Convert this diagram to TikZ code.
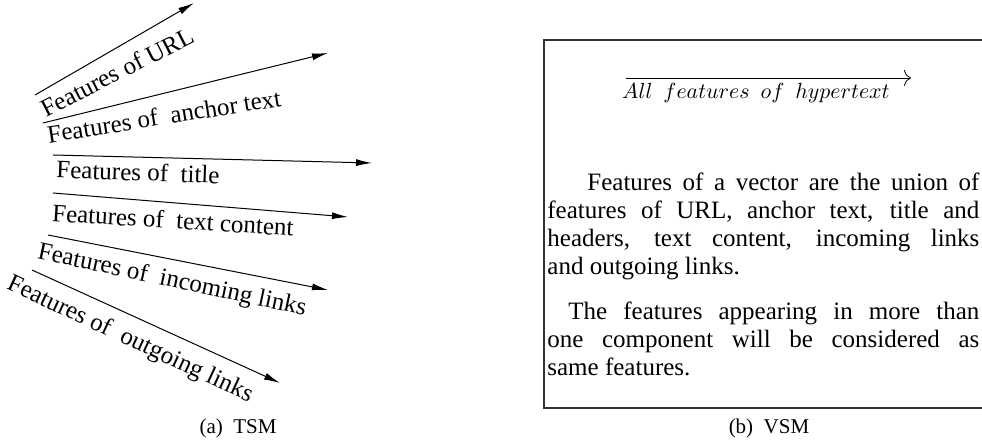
\documentclass[tikz,border=0pt]{standalone}
\usepackage{fontspec}
\setmainfont{Liberation Serif}
\usepackage{amsmath}
\usetikzlibrary{arrows.meta}

\begin{document}
\begin{tikzpicture}[x=0.5pt,y=-0.5pt,
    feat/.style={font=\fontsize{12.5}{14}\selectfont, inner sep=0pt},
    featarrow/.style={-{Latex[length=8pt,width=3.5pt]}, line width=0.5pt},
    para/.style={font=\fontsize{12.5}{14}\selectfont, inner sep=0pt, text width=216pt, align=left, anchor=north west},
    capt/.style={font=\fontsize{10.5}{12}\selectfont, inner sep=0pt}]
    \useasboundingbox (0,0) rectangle (982,442);

    % (a) TSM: one arrow per component
    \coordinate (url0) at (35,95);   \coordinate (url1) at (194,3);
    \coordinate (anc0) at (43,123);  \coordinate (anc1) at (328,53);
    \coordinate (tit0) at (53,155);  \coordinate (tit1) at (372,163);
    \coordinate (con0) at (53,193);  \coordinate (con1) at (348,217);
    \coordinate (inc0) at (48,235);  \coordinate (inc1) at (328,290);
    \coordinate (out0) at (32,270);  \coordinate (out1) at (280,383);
    \draw[featarrow] (url0) -- (url1);
    \draw[featarrow] (anc0) -- (anc1);
    \draw[featarrow] (tit0) -- (tit1);
    \draw[featarrow] (con0) -- (con1);
    \draw[featarrow] (inc0) -- (inc1);
    \draw[featarrow] (out0) -- (out1);
    \node[feat, rotate=27]   (urltxt) at (117,72)  {Features of URL};
    \node[feat, rotate=9]    (anctxt) at (164,116) {Features of~ anchor text};
    \node[feat, rotate=-2]   (tittxt) at (138,172) {Features of~ title};
    \node[feat, rotate=-3.5] (contxt) at (173,220) {Features of~ text content};
    \node[feat, rotate=-12]  (inctxt) at (172,281) {Features of~ incoming links};
    \node[feat, rotate=-25]  (outtxt) at (130,340) {Features of~ outgoing links};
    \node[capt] (capa) at (238,428) {(a)~~TSM};

    % (b) VSM: the box runs off the right edge
    \draw[line width=0.8pt, black!80] (990,40) -- (544,40) -- (544,408) -- (990,408);
    \coordinate (hyp0) at (626,78);  \coordinate (hyp1) at (911,78);
    \draw[-{To[length=3.5pt,width=8pt]}, line width=0.4pt] (hyp0) -- (hyp1);
    \node[font=\fontsize{11}{13}\selectfont, inner sep=0pt] (hyptxt) at (756,93)
        {$All\ \ features\ \ of\ \ hypertext$};
    % justified lines: give the spaces back their stretch
    \node[para] (par1) at (547,173) {\spaceskip=0pt\xspaceskip=0pt%
        \hspace*{20pt}\makebox[196pt][s]{Features of a vector are the union of}\\
        \makebox[216pt][s]{features of URL, anchor text, title and}\\
        \makebox[216pt][s]{headers, text content, incoming links}\\
        and outgoing links.};
    \node[para] (par2) at (547,302) {\spaceskip=0pt\xspaceskip=0pt%
        \hspace*{10.5pt}\makebox[205.5pt][s]{The features appearing in more than}\\
        \makebox[216pt][s]{one component will be considered as}\\
        same features.};
    \node[capt] (capb) at (769,428) {(b)~~VSM};
\end{tikzpicture}
\end{document}
